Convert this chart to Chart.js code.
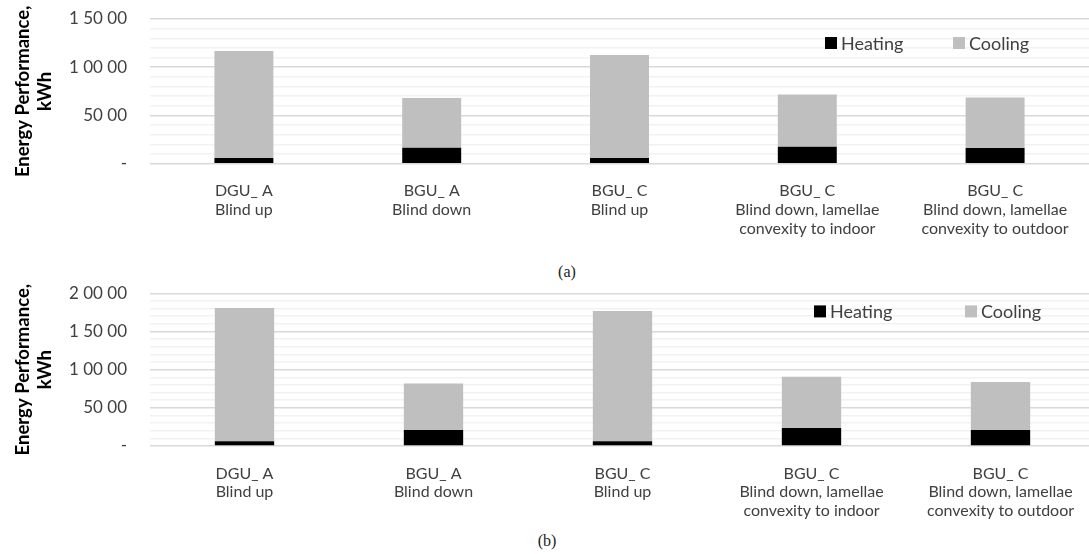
<!DOCTYPE html>
<html>
<head>
<meta charset="utf-8">
<script src="https://cdn.jsdelivr.net/npm/chart.js@4.4.1/dist/chart.umd.min.js"></script>
<style>
  html, body { margin: 0; padding: 0; background: #fff; }
  body { width: 1089px; height: 554px; position: relative; overflow: hidden; }
  .panel { position: absolute; left: 0; }
  .caption { position: absolute; font-family: "Liberation Serif", "DejaVu Serif", serif; font-size: 16px; color: #222; transform: translateX(-50%); }
</style>
</head>
<body>
<div class="panel" style="top:0;"><canvas id="chartA" width="1089" height="262"></canvas></div>
<div class="caption" style="left:567px; top:263px;">(a)</div>
<div class="panel" style="top:272px;"><canvas id="chartB" width="1095" height="260"></canvas></div>
<div class="caption" style="left:547px; top:532px;">(b)</div>
<script>
// Glazing / blind configurations (x categories)
const categories = [
  ['DGU_ A', 'Blind up'],
  ['BGU_ A', 'Blind down'],
  ['BGU_ C', 'Blind up'],
  ['BGU_ C', 'Blind down, lamellae', 'convexity to indoor'],
  ['BGU_ C', 'Blind down, lamellae', 'convexity to outdoor']
];

// Case (a): energy demand, kWh
const heatingA = [590, 1660, 590, 1760, 1640];
const coolingA = [11080, 5140, 10690, 5420, 5210];

// Case (b): energy demand, kWh
const heatingB = [610, 2100, 610, 2360, 2090];
const coolingB = [17450, 6100, 17060, 6710, 6290];

// Y tick labels at every 5000 kWh
const tickLabelsA = ['-', '50 00', '1 00 00', '1 50 00'];
const tickLabelsB = ['-', '50 00', '1 00 00', '1 50 00', '2 00 00'];

const seriesNames = ['Heating', 'Cooling'];
const seriesColors = ['#000000', '#bfbfbf'];

const FONT = 'Lato, "Open Sans", sans-serif';

// Legend drawn inside the plot area, top right
const inlineLegend = {
  id: 'inlineLegend',
  afterDraw(chart, args, opts) {
    const ctx = chart.ctx;
    ctx.save();
    ctx.font = opts.size + 'px ' + FONT;
    ctx.textBaseline = 'middle';
    ctx.textAlign = 'left';
    chart.data.datasets.forEach((ds, i) => {
      const x = opts.xs[i];
      ctx.fillStyle = ds.backgroundColor;
      ctx.fillRect(x, opts.y - opts.box / 2, opts.box, opts.box);
      ctx.fillStyle = '#404040';
      ctx.fillText(ds.label, x + opts.box + 4, opts.y + 1);
    });
    ctx.restore();
  }
};

function buildChart(id, heating, cooling, tickLabels, yMax, plotTop, axisY, canvasH, legendOpts) {
  return new Chart(document.getElementById(id), {
    type: 'bar',
    data: {
      labels: categories,
      datasets: [
        { label: seriesNames[0], data: heating, backgroundColor: seriesColors[0] },
        { label: seriesNames[1], data: cooling, backgroundColor: seriesColors[1] }
      ]
    },
    options: {
      responsive: false,
      animation: false,
      layout: { padding: { top: plotTop, left: 0, right: 0, bottom: 0 } },
      datasets: { bar: { categoryPercentage: 1, barPercentage: 0.314 } },
      plugins: {
        legend: { display: false },
        tooltip: { enabled: false },
        inlineLegend: legendOpts
      },
      scales: {
        x: {
          stacked: true,
          grid: { display: false },
          border: { display: false },
          ticks: {
            color: '#404040',
            font: { family: FONT, size: 16, lineHeight: 1.17 },
            padding: 10,
            maxRotation: 0,
            autoSkip: false
          },
          afterFit(scale) { scale.height = canvasH - axisY; }
        },
        y: {
          stacked: true,
          min: 0,
          max: yMax,
          border: { display: false },
          grid: {
            drawTicks: true,
            tickLength: 20,
            tickColor: 'rgba(0,0,0,0)',
            color: (c) => (c.tick && c.tick.value % 5000 === 0) ? '#d9d9d9' : '#f2f2f2',
            lineWidth: 1.5
          },
          ticks: {
            stepSize: 1000,
            autoSkip: false,
            padding: 3,
            color: '#404040',
            font: { family: FONT, size: 17 },
            callback: (v) => (v % 5000 === 0) ? tickLabels[v / 5000] : ''
          },
          title: {
            display: true,
            text: ['Energy Performance,', 'kWh'],
            color: '#000',
            font: { family: FONT, size: 18.5, weight: 'bold', lineHeight: 1.18 },
            padding: { top: 12, bottom: 0 }
          },
          afterFit(scale) { scale.width = 150; }
        }
      }
    },
    plugins: [inlineLegend]
  });
}

buildChart('chartA', heatingA, coolingA, tickLabelsA, 15000, 19, 163.7, 262,
  { xs: [825, 953], y: 43, box: 12, size: 18 });
buildChart('chartB', heatingB, coolingB, tickLabelsB, 20000, 21.3, 174, 260,
  { xs: [814, 965], y: 39.4, box: 12, size: 18 });
</script>
</body>
</html>
